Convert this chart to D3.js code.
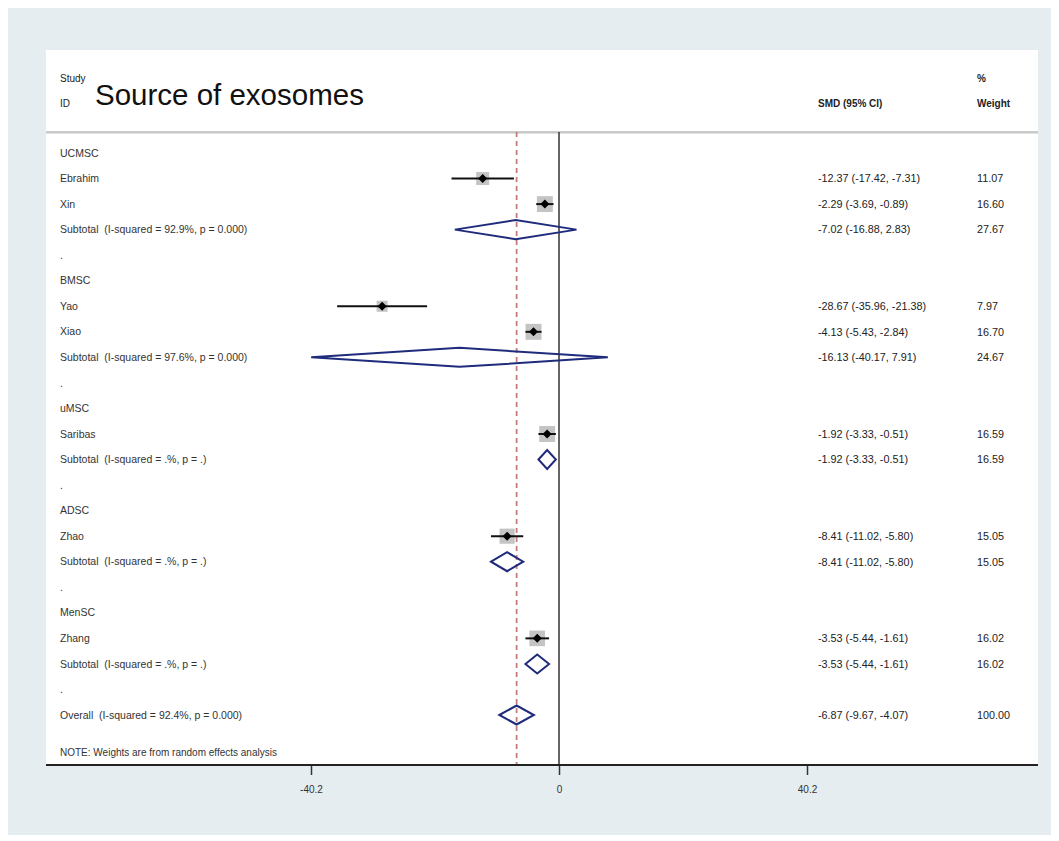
<!DOCTYPE html>
<html>
<head>
<meta charset="utf-8">
<script src="https://cdn.jsdelivr.net/npm/d3@7"></script>
<style>
  body { margin: 0; background: #fff; }
  svg text { font-family: "Liberation Sans", Arial, sans-serif; white-space: pre; }
</style>
</head>
<body>
<svg id="forest" width="1059" height="841"></svg>
<script>
// rows of the forest plot, top to bottom
const rowLabels = [
    "UCMSC", "Ebrahim", "Xin", "Subtotal  (I-squared = 92.9%, p = 0.000)", ".",
    "BMSC", "Yao", "Xiao", "Subtotal  (I-squared = 97.6%, p = 0.000)", ".",
    "uMSC", "Saribas", "Subtotal  (I-squared = .%, p = .)", ".",
    "ADSC", "Zhao", "Subtotal  (I-squared = .%, p = .)", ".",
    "MenSC", "Zhang", "Subtotal  (I-squared = .%, p = .)", ".",
    "Overall  (I-squared = 92.4%, p = 0.000)"
];
const rowTypes = [
    "group", "study", "study", "pooled", "spacer",
    "group", "study", "study", "pooled", "spacer",
    "group", "study", "pooled", "spacer",
    "group", "study", "pooled", "spacer",
    "group", "study", "pooled", "spacer",
    "pooled"
];
const smd = [
    null, -12.37, -2.29, -7.02, null,
    null, -28.67, -4.13, -16.13, null,
    null, -1.92, -1.92, null,
    null, -8.41, -8.41, null,
    null, -3.53, -3.53, null,
    -6.87
];
const ciLower = [
    null, -17.42, -3.69, -16.88, null,
    null, -35.96, -5.43, -40.17, null,
    null, -3.33, -3.33, null,
    null, -11.02, -11.02, null,
    null, -5.44, -5.44, null,
    -9.67
];
const ciUpper = [
    null, -7.31, -0.89, 2.83, null,
    null, -21.38, -2.84, 7.91, null,
    null, -0.51, -0.51, null,
    null, -5.80, -5.80, null,
    null, -1.61, -1.61, null,
    -4.07
];
const weights = [
    null, 11.07, 16.60, 27.67, null,
    null, 7.97, 16.70, 24.67, null,
    null, 16.59, 16.59, null,
    null, 15.05, 15.05, null,
    null, 16.02, 16.02, null,
    100.00
];
const xTicks = [-40.2, 0, 40.2];
const overallSmd = -6.87;

const rows = rowLabels.map((label, i) => ({
    i, label, type: rowTypes[i], es: smd[i], lo: ciLower[i], hi: ciUpper[i], w: weights[i]
}));

const svg = d3.select("#forest");
const width = +svg.attr("width");
const height = +svg.attr("height");

const panel = { left: 46, right: 1038, top: 50, bottom: 765 };
const headerLine = 132;

// background frame
svg.append("rect")
    .attr("x", 8).attr("y", 8)
    .attr("width", width - 16).attr("height", height - 14)
    .attr("fill", "#e5edf1");

svg.append("rect")
    .attr("x", panel.left).attr("y", panel.top)
    .attr("width", panel.right - panel.left).attr("height", panel.bottom - panel.top)
    .attr("fill", "#fff");

const x = d3.scaleLinear()
    .domain([-40.2, 40.2])
    .range([311, 807]);

const y = d3.scaleLinear()
    .domain([0, rows.length - 1])
    .range([153, 715]);

const textColor = "#333";

// header
svg.append("line")
    .attr("x1", panel.left).attr("x2", panel.right)
    .attr("y1", headerLine + 1).attr("y2", headerLine + 1)
    .attr("stroke", "#e2e2e2").attr("stroke-width", 2);
svg.append("line")
    .attr("x1", panel.left).attr("x2", panel.right)
    .attr("y1", headerLine).attr("y2", headerLine)
    .attr("stroke", "#bdbdbd").attr("stroke-width", 1.5);

const header = [
    { t: "Study", x: 60, y: 78 },
    { t: "ID", x: 60, y: 103 },
    { t: "SMD (95% CI)", x: 818, y: 103 },
    { t: "%", x: 977, y: 78 },
    { t: "Weight", x: 977, y: 103 }
];
svg.selectAll(".hdr")
    .data(header)
    .join("text")
    .attr("class", "hdr")
    .attr("x", d => d.x)
    .attr("y", d => d.y)
    .attr("dy", "0.35em")
    .attr("font-size", "10px")
    .attr("fill", "#222")
    .attr("font-weight", d => d.x > 800 ? "bold" : "normal")
    .text(d => d.t);

svg.append("text")
    .attr("x", 95)
    .attr("y", 105)
    .attr("font-size", "29.5px")
    .attr("fill", "#111")
    .text("Source of exosomes");

// reference lines
svg.append("line")
    .attr("x1", x(0)).attr("x2", x(0))
    .attr("y1", headerLine).attr("y2", panel.bottom)
    .attr("stroke", "#333").attr("stroke-width", 1.5);

svg.append("line")
    .attr("x1", x(overallSmd)).attr("x2", x(overallSmd))
    .attr("y1", headerLine).attr("y2", panel.bottom)
    .attr("stroke", "#c97a7a").attr("stroke-width", 1.8)
    .attr("stroke-dasharray", "5,4");

// row labels
svg.selectAll(".lbl")
    .data(rows)
    .join("text")
    .attr("class", "lbl")
    .attr("x", 60)
    .attr("y", d => y(d.i))
    .attr("dy", "0.35em")
    .attr("font-size", "10.5px")
    .attr("fill", textColor)
    .text(d => d.label);

// right-hand columns
const valued = rows.filter(d => d.es !== null);
svg.selectAll(".ci-txt")
    .data(valued)
    .join("text")
    .attr("class", "ci-txt")
    .attr("x", 818)
    .attr("y", d => y(d.i))
    .attr("dy", "0.35em")
    .attr("font-size", "10.8px")
    .attr("fill", "#222")
    .text(d => `${d.es.toFixed(2)} (${d.lo.toFixed(2)}, ${d.hi.toFixed(2)})`);

svg.selectAll(".w-txt")
    .data(valued)
    .join("text")
    .attr("class", "w-txt")
    .attr("x", 977)
    .attr("y", d => y(d.i))
    .attr("dy", "0.35em")
    .attr("font-size", "10.8px")
    .attr("fill", "#222")
    .text(d => d.w.toFixed(2));

// study estimates
const studies = rows.filter(d => d.type === "study");
const side = w => 3.9 * Math.sqrt(w);

svg.selectAll(".box")
    .data(studies)
    .join("rect")
    .attr("class", "box")
    .attr("x", d => x(d.es) - side(d.w) / 2)
    .attr("y", d => y(d.i) - side(d.w) / 2)
    .attr("width", d => side(d.w))
    .attr("height", d => side(d.w))
    .attr("fill", "#c4c4c4");

svg.selectAll(".ci")
    .data(studies)
    .join("line")
    .attr("class", "ci")
    .attr("x1", d => x(d.lo)).attr("x2", d => x(d.hi))
    .attr("y1", d => y(d.i)).attr("y2", d => y(d.i))
    .attr("stroke", "#111").attr("stroke-width", 2);

svg.selectAll(".pt")
    .data(studies)
    .join("path")
    .attr("class", "pt")
    .attr("d", d => {
        const cx = x(d.es), cy = y(d.i), r = 4.5;
        return `M${cx - r},${cy}L${cx},${cy - r}L${cx + r},${cy}L${cx},${cy + r}Z`;
    })
    .attr("fill", "#000");

// pooled diamonds
const pooled = rows.filter(d => d.type === "pooled");
svg.selectAll(".diamond")
    .data(pooled)
    .join("path")
    .attr("class", "diamond")
    .attr("d", d => {
        const cy = y(d.i), h = 9.5;
        return `M${x(d.lo)},${cy}L${x(d.es)},${cy - h}L${x(d.hi)},${cy}L${x(d.es)},${cy + h}Z`;
    })
    .attr("fill", "none")
    .attr("stroke", "#1f2b7b")
    .attr("stroke-width", 2);

// note
svg.append("text")
    .attr("x", 60)
    .attr("y", 752)
    .attr("dy", "0.35em")
    .attr("font-size", "10px")
    .attr("fill", textColor)
    .text("NOTE: Weights are from random effects analysis");

// x axis
const axis = svg.append("g")
    .attr("transform", `translate(0, ${panel.bottom})`)
    .call(d3.axisBottom(x).tickValues(xTicks).tickSize(10).tickPadding(11).tickFormat(d => String(d)));
axis.select(".domain").remove();
axis.selectAll(".tick line").attr("stroke", "#333").attr("stroke-width", 1.5);
axis.selectAll(".tick text")
    .attr("font-size", "10px")
    .attr("fill", textColor)
    .attr("font-family", "Liberation Sans, Arial, sans-serif");

svg.append("line")
    .attr("x1", panel.left).attr("x2", panel.right)
    .attr("y1", panel.bottom).attr("y2", panel.bottom)
    .attr("stroke", "#222").attr("stroke-width", 2);
</script>
</body>
</html>
